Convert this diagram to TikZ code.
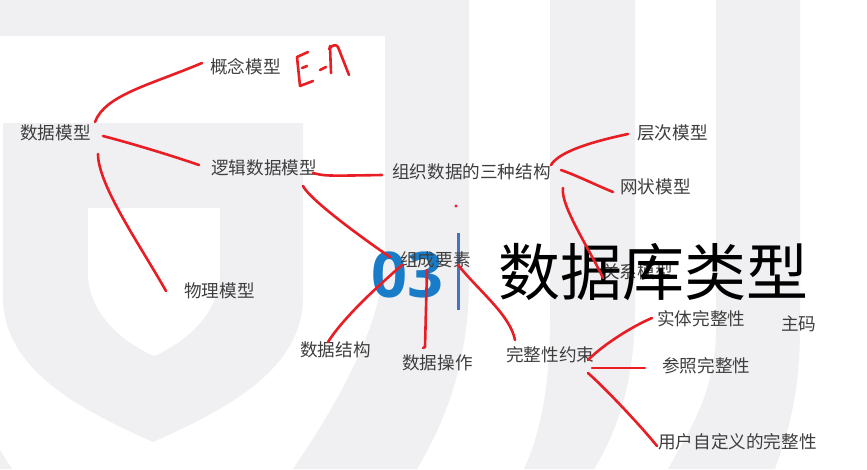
\documentclass[tikz,border=0pt]{standalone}
\usepackage{fontspec}
\newfontfamily\cjkfont{Noto Sans CJK SC}
\newfontfamily\digitfont{Open Sans}
\definecolor{bggray}{RGB}{240,240,243}
\definecolor{penred}{RGB}{232,30,36}
\definecolor{labelgray}{RGB}{62,62,62}
\definecolor{numblue}{RGB}{24,124,200}
\definecolor{barblue}{RGB}{68,114,196}
\tikzset{
  lbl/.style={anchor=west, inner sep=0pt, text=labelgray, font=\cjkfont\fontsize{17.6}{20}\selectfont},
  pen/.style={draw=penred, line width=2.6pt, line cap=round, line join=round},
  bgfill/.style={fill=bggray, draw=none},
}
\begin{document}
\begin{tikzpicture}[x=1pt,y=-1pt]
\useasboundingbox (0,0) rectangle (867,469);
% ---------- background watermark ----------
\fill[white] (0,0) rectangle (867,469);
\fill[bgfill] (0,0) -- (469,0) -- (469,280) .. controls (469,370) and (440,430) .. (417,469)
  -- (293,469) .. controls (340,400) and (385,320) .. (385,250) -- (385,36) -- (0,36) -- cycle;
\fill[bgfill] (0,450) .. controls (5,458) .. (12,469) -- (0,469) -- cycle;
\fill[bgfill] (550,0) -- (635,0) -- (635,310) .. controls (635,390) and (612,440) .. (594,469)
  -- (524,469) .. controls (542,430) and (550,380) .. (550,320) -- cycle;
\fill[bgfill] (716,0) -- (800,0) -- (800,330) .. controls (800,400) and (785,440) .. (775,469)
  -- (668,469) .. controls (690,430) and (716,390) .. (716,330) -- cycle;
\fill[bgfill] (3,123) -- (303,123) -- (303,297) .. controls (303,370) and (225,410) .. (153,442)
  .. controls (81,410) and (3,370) .. (3,297) -- cycle;
\fill[white] (88,208) -- (220,208) -- (220,273) .. controls (220,310) and (190,340) .. (154,356)
  .. controls (118,340) and (88,310) .. (88,273) -- cycle;

% ---------- title block ----------
\node[anchor=base west, inner sep=0pt, text=numblue, font=\digitfont\bfseries\fontsize{63}{70}\selectfont] (num) at (371,297) {03};
\coordinate (bartop) at (458.5,233);
\coordinate (barbot) at (458.5,310);
\draw[barblue, line width=2.6pt] (bartop) -- (barbot);
\node[lbl] (guanxi) at (602,272) {关系模型};
\node[anchor=west, inner sep=0pt, text=black, font=\cjkfont\fontsize{62}{70}\selectfont] (title) at (498,272) {数据库类型};

% ---------- labels ----------
\node[lbl] (gainian) at (210,67) {概念模型};
\node[lbl] (shuju) at (20,133) {数据模型};
\node[lbl] (luoji) at (211,168) {逻辑数据模型};
\node[lbl] (zuzhi) at (392,172) {组织数据的三种结构};
\node[lbl] (cengci) at (637,133) {层次模型};
\node[lbl] (wang) at (620,187) {网状模型};
\node[lbl] (wuli) at (184,291) {物理模型};
\node[lbl] (zucheng) at (400,260) {组成要素};
\node[lbl] (jiegou) at (300,350) {数据结构};
\node[lbl] (caozuo) at (402,363) {数据操作};
\node[lbl] (wanzheng) at (506,355) {完整性约束};
\node[lbl] (shiti) at (657,319) {实体完整性};
\node[lbl] (zhuma) at (781,324) {主码};
\node[lbl] (canzhao) at (662,366) {参照完整性};
\node[lbl] (yonghu) at (658,442) {用户自定义的完整性};

% ---------- connector end points ----------
\coordinate (a1) at (95,122);   \coordinate (a2) at (202,63);
\coordinate (b1) at (103,136);  \coordinate (b2) at (199,165);
\coordinate (c1) at (98,154);   \coordinate (c2) at (166,291);
\coordinate (d1) at (313,173);  \coordinate (d2) at (382,175);
\coordinate (e1) at (303,186);  \coordinate (e2) at (390,257);
\coordinate (f1) at (402,265);  \coordinate (f2) at (328,342);
\coordinate (g1) at (427,270);  \coordinate (g2) at (425,347);
\coordinate (h1) at (458,265);  \coordinate (h2) at (515,340);
\coordinate (i1) at (551,165);  \coordinate (i2) at (628,134);
\coordinate (j1) at (561,170);  \coordinate (j2) at (613,192);
\coordinate (k1) at (563,188);  \coordinate (k2) at (603,278);
\coordinate (l1) at (588,360);  \coordinate (l2) at (652,318);
\coordinate (m1) at (592,368);  \coordinate (m2) at (645,368);
\coordinate (n1) at (588,373);  \coordinate (n2) at (657,446);

% ---------- red hand-drawn connectors ----------
\draw[pen] (a1) .. controls (105,95) and (150,85) .. (a2);
\draw[pen] (b1) .. controls (130,143) and (170,155) .. (b2);
\draw[pen] (c1) .. controls (98,185) and (140,245) .. (c2);
\draw[pen] (d1) .. controls (325,176) .. (d2);
\draw[pen] (e1) .. controls (310,200) and (365,240) .. (e2);
\draw[pen] (f1) .. controls (385,280) and (345,315) .. (f2);
\draw[pen] (g1) -- (g2) -- ++(-2,1);
\draw[pen] (h1) .. controls (480,292) and (510,315) .. (h2);
\draw[pen] (i1) .. controls (560,150) and (600,140) .. (i2);
\draw[pen] (j1) .. controls (578,176) and (598,186) .. (j2);
\draw[pen] (k1) .. controls (560,205) and (590,250) .. (k2);
\draw[pen] (l1) .. controls (605,343) and (635,325) .. (l2);
\draw[pen] (m1) -- (m2);
\draw[pen] (n1) .. controls (605,388) and (640,425) .. (n2);

% ---------- red dot ----------
\coordinate (dot) at (456,206);
\fill[penred] (dot) circle (1.6);

% ---------- handwritten E-R ----------
\coordinate (eTop) at (308,52);
\coordinate (eBot) at (313,81);
\draw[pen] (eTop) -- (297,57) -- (300,86) -- (eBot);
\draw[pen] (302,68) -- (307,66);
\draw[pen] (320,70) -- (326,67);
\draw[pen] (330,46) -- (331,73);
\draw[pen] (329,49) .. controls (332,45) and (336,44) .. (338,47) -- (349,75);
\end{tikzpicture}
\end{document}
